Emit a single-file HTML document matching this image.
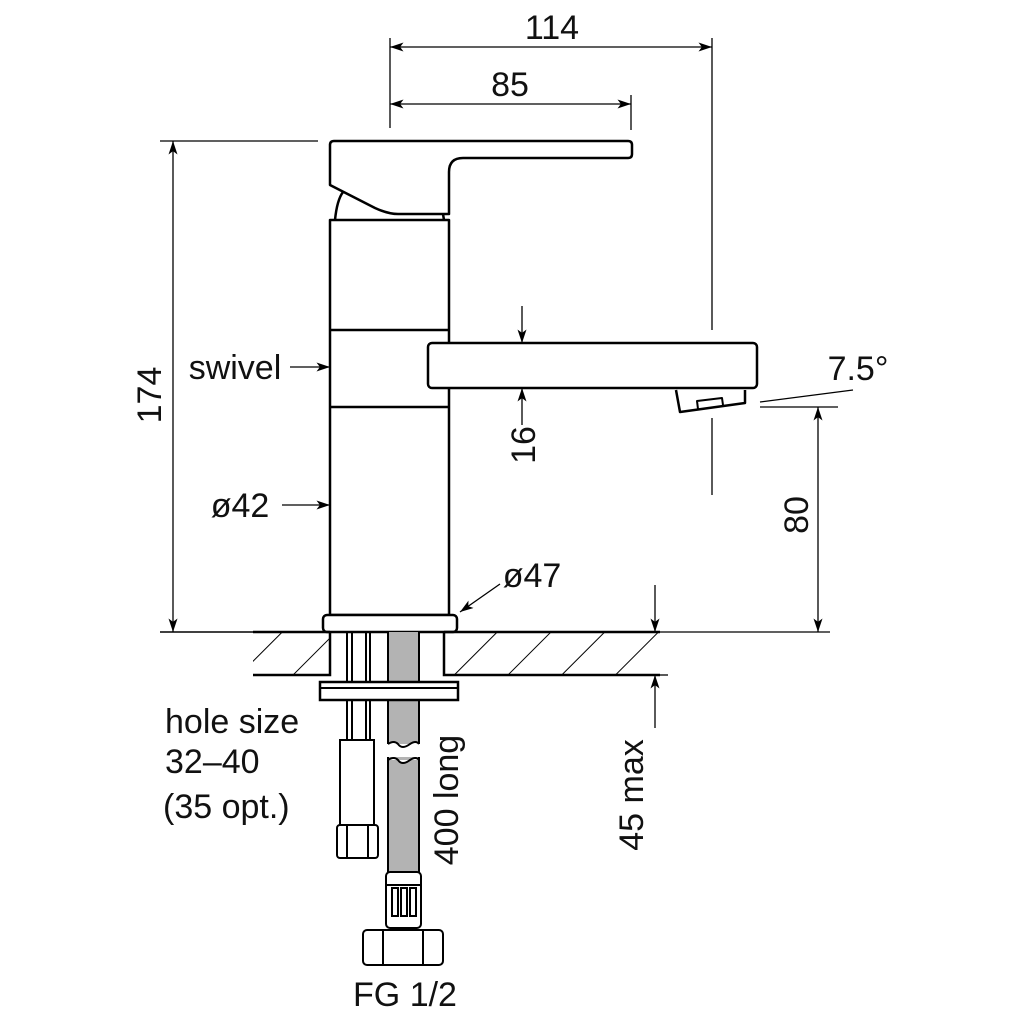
<!DOCTYPE html>
<html><head><style>body{margin:0;background:#fff}svg{display:block}text{font-family:"Liberation Sans",sans-serif;font-size:34px;fill:#111}</style></head>
<body>
<svg width="1021" height="1021" viewBox="0 0 1021 1021" xmlns="http://www.w3.org/2000/svg">
<defs>
<marker id="a" viewBox="0 0 12 8" refX="12" refY="4" markerWidth="14" markerHeight="9" orient="auto-start-reverse" markerUnits="userSpaceOnUse"><path d="M0,0 L12,4 L0,8 L3,4z" fill="#000"/></marker>
<pattern id="h" patternUnits="userSpaceOnUse" width="38" height="38" patternTransform="rotate(45)"><line x1="0" y1="0" x2="0" y2="38" stroke="#000" stroke-width="2"/></pattern>
</defs>
<g fill="none" stroke="#000" stroke-width="2.5" stroke-linejoin="round">
<path d="M330,145 Q330,141 334,141 L628,141 Q632,141 632,145 L632,154 Q632,158 628,158 L463,158 Q449,158 449,172 L449,214 L398,214 Q388,214 375,208 L330,185 Z" fill="#fff"/>
<path d="M335,220 Q337,200 343,192"/>
<path d="M443,214 L444,220"/>
<rect x="330" y="220" width="119" height="395" fill="#fff"/>
<line x1="330" y1="330" x2="449" y2="330"/>
<line x1="330" y1="407" x2="449" y2="407"/>
<rect x="323" y="615" width="134" height="17" rx="4" fill="#fff"/>
<rect x="428" y="343" width="329" height="45" rx="4" fill="#fff"/>
<path d="M676,390 L680,412 L745,403 L745,390"/>
<path d="M698,409 L697,401 L722,398 L723,405" stroke-width="2"/>
</g>
<rect x="253" y="632" width="77" height="43" fill="url(#h)"/>
<rect x="444" y="632" width="216" height="43" fill="url(#h)"/>
<g fill="none" stroke="#000" stroke-width="2.5">
<line x1="160" y1="632" x2="660" y2="632" stroke-width="1.5"/>
<line x1="253" y1="632" x2="330" y2="632"/>
<line x1="444" y1="632" x2="660" y2="632"/>
<path d="M253,675 L330,675 L330,632"/>
<path d="M660,675 L444,675 L444,632"/>
<rect x="388" y="632" width="31" height="112" fill="#b3b3b3" stroke="none"/>
<rect x="388" y="757" width="31" height="115" fill="#b3b3b3" stroke="none"/>
<path d="M388,632 V744 M419,632 V744 M388,872 V757 M419,872 V757" stroke-width="2"/>
<path d="M388,744 Q394,740 398,744 Q402,750 410,744 Q416,740 419,744" fill="#fff" stroke-width="2"/>
<path d="M388,760 Q394,756 398,760 Q402,766 410,760 Q416,756 419,760" fill="#fff" stroke-width="2"/>
<path d="M347,632 V740 M352,632 V740 M366,632 V740 M370,632 V740" stroke-width="2"/>
<rect x="320" y="682" width="138" height="18" fill="#fff"/>
<line x1="320" y1="688" x2="458" y2="688" stroke-width="2"/>
<rect x="340" y="740" width="34" height="85" fill="#fff" stroke-width="2"/>
<rect x="337" y="825" width="41" height="33" rx="3" fill="#fff" stroke-width="2"/>
<path d="M347,825 V858 M368,825 V858" stroke-width="2"/>
<rect x="386" y="872" width="35" height="56" rx="4" fill="#fff" stroke-width="2"/>
<path d="M386,885 H421" stroke-width="2"/>
<rect x="392" y="888" width="6" height="28" stroke-width="2"/>
<rect x="401" y="888" width="6" height="28" stroke-width="2"/>
<rect x="410" y="888" width="6" height="28" stroke-width="2"/>
<rect x="363" y="930" width="80" height="35" rx="4" fill="#fff" stroke-width="2"/>
<path d="M383,930 V965 M423,930 V965" stroke-width="2"/>
</g>
<g fill="none" stroke="#000" stroke-width="1.3">
<line x1="390" y1="38" x2="390" y2="128"/>
<line x1="712" y1="38" x2="712" y2="330"/>
<line x1="712" y1="418" x2="712" y2="495"/>
<line x1="390" y1="47" x2="712" y2="47" marker-start="url(#a)" marker-end="url(#a)"/>
<line x1="631" y1="95" x2="631" y2="130"/>
<line x1="390" y1="104" x2="631" y2="104" marker-start="url(#a)" marker-end="url(#a)"/>
<line x1="160" y1="141" x2="318" y2="141"/>
<line x1="173" y1="141" x2="173" y2="632" marker-start="url(#a)" marker-end="url(#a)"/>
<line x1="522" y1="306" x2="522" y2="343" marker-end="url(#a)"/>
<line x1="522" y1="425" x2="522" y2="388" marker-end="url(#a)"/>
<line x1="760" y1="407" x2="838" y2="407"/>
<line x1="760" y1="402" x2="853" y2="390"/>
<line x1="660" y1="632" x2="830" y2="632"/>
<line x1="818" y1="407" x2="818" y2="632" marker-start="url(#a)" marker-end="url(#a)"/>
<line x1="655" y1="585" x2="655" y2="632" marker-end="url(#a)"/>
<line x1="655" y1="728" x2="655" y2="675" marker-end="url(#a)"/>
<line x1="660" y1="675" x2="668" y2="675"/>
<line x1="290" y1="367" x2="330" y2="367" marker-end="url(#a)"/>
<line x1="282" y1="505" x2="330" y2="505" marker-end="url(#a)"/>
<line x1="500" y1="584" x2="460" y2="612" marker-end="url(#a)"/>
</g>
<text x="552" y="39" text-anchor="middle">114</text>
<text x="510" y="96" text-anchor="middle">85</text>
<text transform="translate(161,395) rotate(-90)" text-anchor="middle">174</text>
<text transform="translate(535,445) rotate(-90)" text-anchor="middle">16</text>
<text transform="translate(808,515) rotate(-90)" text-anchor="middle">80</text>
<text transform="translate(643,795) rotate(-90)" text-anchor="middle">45 max</text>
<text transform="translate(458,800) rotate(-90)" text-anchor="middle">400 long</text>
<text x="858" y="380" text-anchor="middle">7.5°</text>
<text x="235" y="379" text-anchor="middle">swivel</text>
<text x="240" y="517" text-anchor="middle">ø42</text>
<text x="532" y="587" text-anchor="middle">ø47</text>
<text x="165" y="733">hole size</text>
<text x="165" y="773">32–40</text>
<text x="163" y="818">(35 opt.)</text>
<text x="405" y="1006" text-anchor="middle">FG 1/2</text>
</svg>
</body></html>
